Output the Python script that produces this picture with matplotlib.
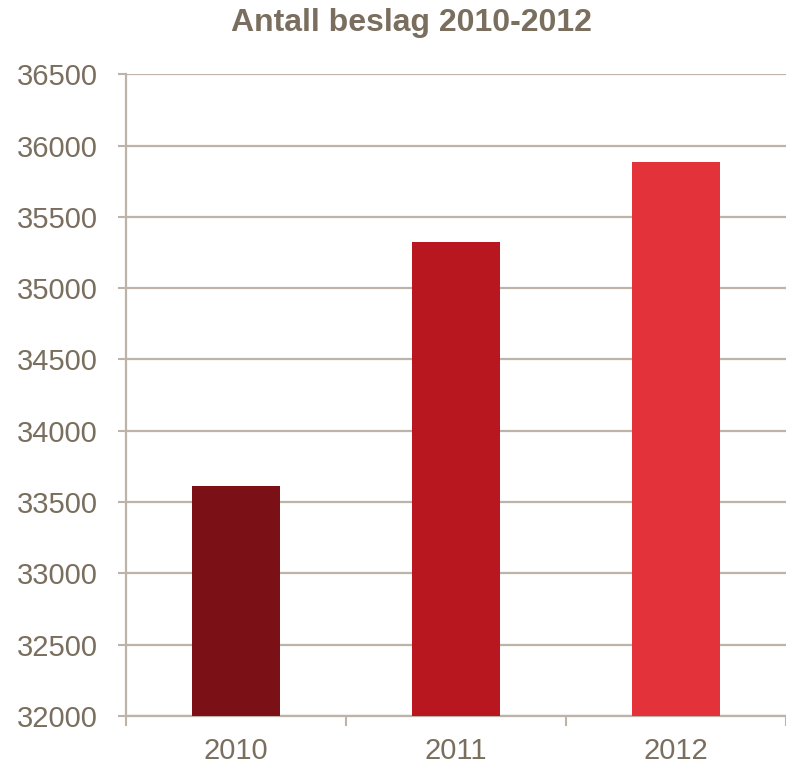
import matplotlib.pyplot as plt
from matplotlib.ticker import FixedLocator

plt.rcParams['font.family'] = ['Liberation Sans', 'DejaVu Sans']

years = ['2010', '2011', '2012']
beslag = [33610, 35325, 35885]
bar_colors = ['#7b1016', '#b8171f', '#e4323a']
yticks = [32000, 32500, 33000, 33500, 34000, 34500, 35000, 35500, 36000, 36500]

text_col = '#7a6e5e'
grid_col = '#bdb3a9'

fig = plt.figure(figsize=(7.86, 7.65), dpi=100)
ax = fig.add_axes([0.160, 0.064, 0.840, 0.839])

x = list(range(len(years)))
ax.bar(x, [v - yticks[0] for v in beslag], bottom=yticks[0], width=0.40,
       color=bar_colors, zorder=3)

ax.set_xlim(-0.5, len(years) - 0.5)
ax.set_ylim(yticks[0], yticks[-1])
ax.set_yticks(yticks)
ax.set_yticklabels([str(t) for t in yticks])
ax.yaxis.grid(True, color=grid_col, linewidth=1.6, zorder=0)

# category labels in the middle, tick marks on the boundaries
ax.set_xticks(x)
ax.set_xticklabels(years)
ax.xaxis.set_minor_locator(FixedLocator([i - 0.5 for i in range(len(years) + 1)]))
ax.tick_params(axis='x', which='major', length=0, pad=15, labelsize=21, labelcolor=text_col)
ax.tick_params(axis='x', which='minor', length=7, width=1.5, color=grid_col)
ax.tick_params(axis='y', length=6, width=1.5, color=grid_col, pad=14,
               labelsize=21, labelcolor=text_col)

for side in ['top', 'right']:
    ax.spines[side].set_visible(False)
for side in ['left', 'bottom']:
    ax.spines[side].set_color(grid_col)
    ax.spines[side].set_linewidth(1.6)

fig.text(0.523, 0.970, 'Antall beslag 2010-2012', ha='center', va='center',
         fontsize=23, fontweight='bold', color=text_col)

fig.savefig('out.png', dpi=100)
